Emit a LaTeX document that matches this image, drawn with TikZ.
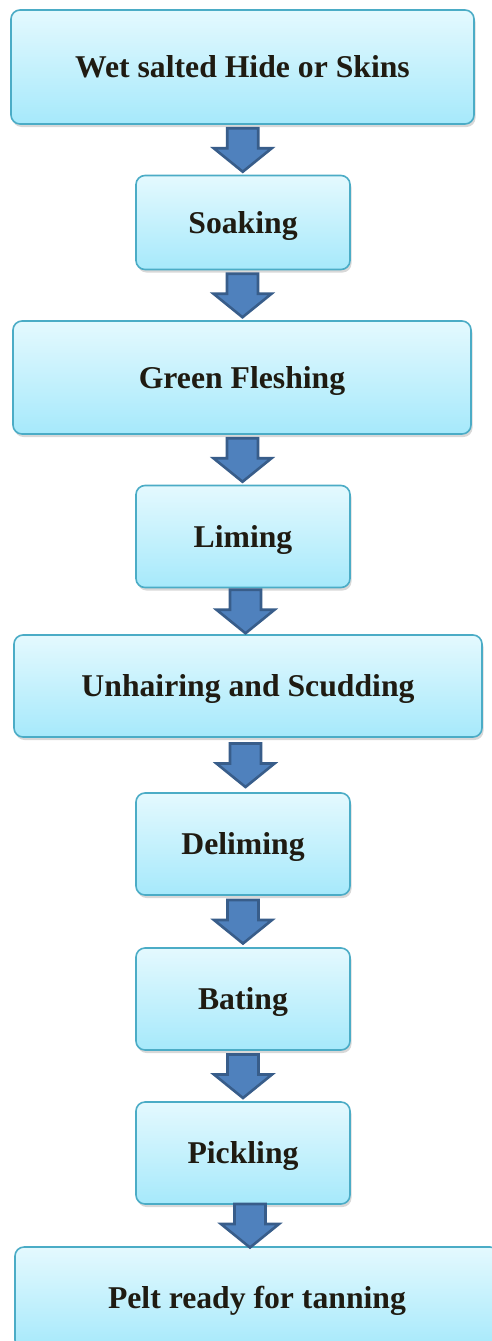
\documentclass[tikz,border=0pt]{standalone}
\usepackage{fontspec}
\setmainfont{Liberation Serif}
\usetikzlibrary{calc,shadows}
\definecolor{boxtop}{HTML}{E4F9FE}
\definecolor{boxbot}{HTML}{A6E9FB}
\definecolor{boxline}{HTML}{4BACC6}
\definecolor{arrfill}{HTML}{4F81BD}
\definecolor{arrline}{HTML}{385D8A}
\definecolor{ink}{HTML}{1F1B12}
\tikzset{
  stage/.style={draw=boxline, line width=1.6pt, rounded corners=9pt,
    top color=boxtop, bottom color=boxbot, text=ink,
    font=\bfseries\fontsize{31.7}{38}\selectfont,
    inner sep=0pt, text height=21pt, text depth=0pt,
    drop shadow={opacity=0.3, shadow xshift=1.5pt, shadow yshift=-3pt}},
  blockarrow/.style={fill=arrfill, draw=arrline, line width=2.6pt, line join=miter}
}
% block arrow centred between the lower edge of #1 and the upper edge of #2
\newcommand{\flowarrow}[2]{%
  \path ($(#1.south)!0.5!(#2.north)$) coordinate (m-#1);
  \draw[blockarrow, shift={(m-#1)}]
    (-15.5,21.5) -- (15.5,21.5) -- (15.5,1.5) -- (29,1.5) -- (0,-22)
    -- (-29,1.5) -- (-15.5,1.5) -- cycle;
}
\begin{document}
\begin{tikzpicture}[x=1pt,y=1pt]
\useasboundingbox (0,0) rectangle (491,-1341);
\fill[white] (0,0) rectangle (491,-1341);

\node[stage, minimum width=463, minimum height=114] (b1) at (242.5,-67) {Wet salted Hide or Skins};
\node[stage, minimum width=214, minimum height=94]  (b2) at (243,-222.5) {Soaking};
\node[stage, minimum width=458, minimum height=113] (b3) at (242,-377.5) {Green Fleshing};
\node[stage, minimum width=214, minimum height=102] (b4) at (243,-536.5) {Liming};
\node[stage, minimum width=468, minimum height=102] (b5) at (248,-686) {Unhairing and Scudding};
\node[stage, minimum width=214, minimum height=102] (b6) at (243,-844) {Deliming};
\node[stage, minimum width=214, minimum height=102] (b7) at (243,-999) {Bating};
\node[stage, minimum width=214, minimum height=102] (b8) at (243,-1153) {Pickling};
\node[stage, minimum width=484, minimum height=102] (b9) at (257,-1298) {Pelt ready for tanning};

\flowarrow{b1}{b2}
\flowarrow{b2}{b3}
\flowarrow{b3}{b4}
\flowarrow{b4}{b5}
\flowarrow{b5}{b6}
\flowarrow{b6}{b7}
\flowarrow{b7}{b8}
\flowarrow{b8}{b9}
\end{tikzpicture}
\end{document}
